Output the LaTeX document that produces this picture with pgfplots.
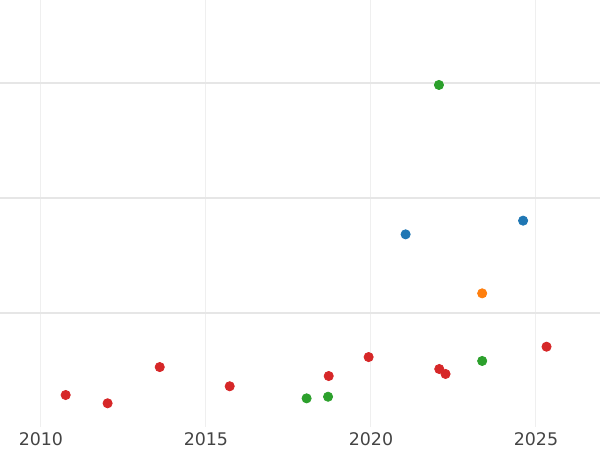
\documentclass[border=0pt]{standalone}
\usepackage{fontspec}
\setmainfont{DejaVu Sans}
\usepackage{pgfplots}
\pgfplotsset{compat=1.18}
\definecolor{tabblue}{HTML}{1F77B4}
\definecolor{taborange}{HTML}{FF7F0E}
\definecolor{tabgreen}{HTML}{2CA02C}
\definecolor{tabred}{HTML}{D62728}
\definecolor{gridx}{HTML}{EFEFEF}
\definecolor{gridy}{HTML}{E6E6E6}
\definecolor{labc}{HTML}{444444}
\begin{document}
\begin{tikzpicture}
\begin{axis}[
  at={(0,0)}, anchor=north west,
  width=300pt, height=213.5pt, scale only axis,
  xmin=2008.76, xmax=2026.94,
  ymin=0.0087, ymax=3.7217,
  xtick={2010,2015,2020,2025},
  ytick={1,2,3}, yticklabels={},
  grid=major,
  major x grid style={draw=gridx, line width=0.5pt},
  major y grid style={draw=gridy, line width=0.6pt},
  axis line style={draw=none},
  major tick length=0pt,
  tick style={draw=none},
  /pgf/number format/assume math mode=true,
  /pgf/number format/1000 sep={},
  xticklabel style={font=\fontsize{8.7}{10}\selectfont, text=labc, inner sep=0pt, anchor=north, yshift=-2.6pt},
  clip=false,
]
\addplot[only marks, mark=*, mark size=2.3pt, color=tabred, mark options={draw=tabred, fill=tabred}] coordinates {
(2010.75,0.287) (2012.02,0.215) (2013.60,0.530) (2015.72,0.363) (2018.72,0.452)
(2019.93,0.617) (2022.07,0.513) (2022.26,0.470) (2025.32,0.707)};
\addplot[only marks, mark=*, mark size=2.3pt, color=tabgreen, mark options={draw=tabgreen, fill=tabgreen}] coordinates {
(2022.06,2.983) (2018.05,0.258) (2018.70,0.272) (2023.37,0.583)};
\addplot[only marks, mark=*, mark size=2.3pt, color=tabblue, mark options={draw=tabblue, fill=tabblue}] coordinates {
(2021.05,1.684) (2024.61,1.803)};
\addplot[only marks, mark=*, mark size=2.3pt, color=taborange, mark options={draw=taborange, fill=taborange}] coordinates {
(2023.37,1.171)};
\end{axis}
\pgfresetboundingbox
\path[use as bounding box] (0,0) rectangle (300pt,-225pt);
\end{tikzpicture}
\end{document}
